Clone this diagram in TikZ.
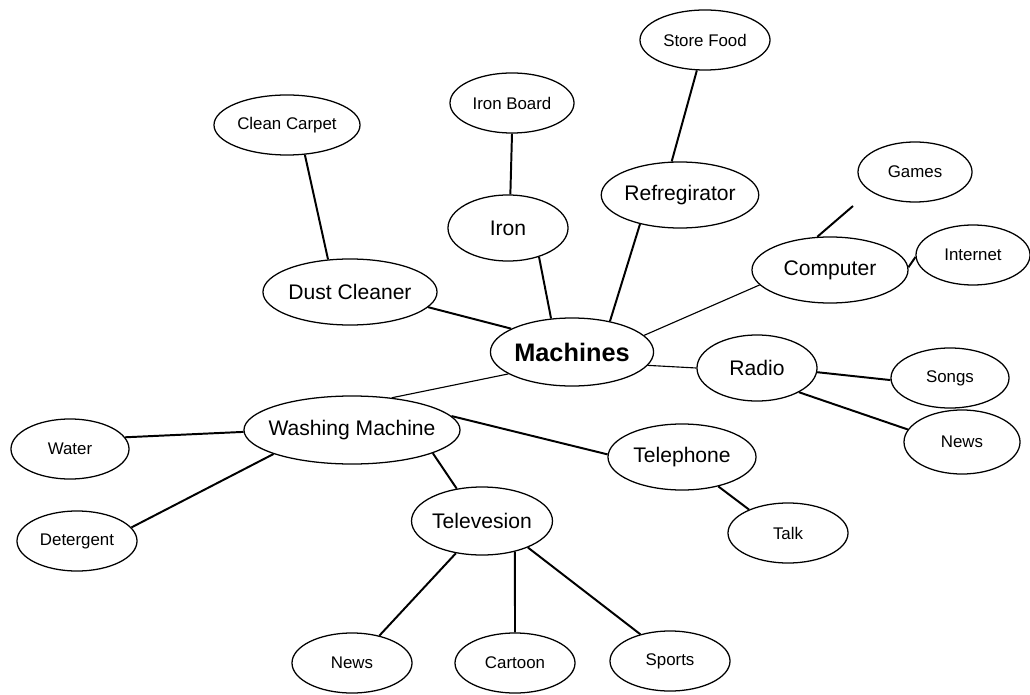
\documentclass[tikz,border=0pt]{standalone}
\usepackage{fontspec}
\setmainfont{Liberation Sans}
\usetikzlibrary{shapes.geometric}

\tikzset{
    bubble/.style={ellipse, draw, line width=0.9pt, inner sep=0pt, minimum height=1.5cm, font=\fontsize{12}{14}\selectfont},
    topic/.style={bubble, minimum height=1.65cm, font=\fontsize{15}{18}\selectfont},
    link/.style={line width=1.4pt},
    thinlink/.style={line width=0.8pt}
}

\begin{document}
\begin{tikzpicture}[x=0.025cm, y=-0.025cm]
    \useasboundingbox (0,0) rectangle (1030,695);

    % Centre
    \node[bubble, minimum width=4cm, minimum height=1.7cm, font=\fontsize{18}{21}\selectfont\bfseries] (mach) at (572,352) {Machines};

    % Upper branches
    \node[topic, minimum width=4.35cm] (dust) at (350,292) {Dust Cleaner};
    \node[bubble, minimum width=3.65cm] (carpet) at (287,125) {Clean Carpet};
    \node[topic, minimum width=3cm] (iron) at (508,228) {Iron};
    \node[bubble, minimum width=3.1cm] (board) at (512,103) {Iron Board};
    \node[topic, minimum width=3.9cm] (fridge) at (680,195) {Refregirator};
    \node[bubble, minimum width=3.25cm] (food) at (705,40) {Store Food};
    \node[topic, minimum width=3.9cm] (comp) at (830,270) {Computer};
    \node[bubble, minimum width=2.85cm] (games) at (915,172) {Games};
    \node[bubble, minimum width=2.85cm] (net) at (973,255) {Internet};
    \coordinate (gamesend) at (853,206);

    % Right branches
    \node[topic, minimum width=3cm] (radio) at (757,368) {Radio};
    \node[bubble, minimum width=2.95cm] (songs) at (950,378) {Songs};
    \node[bubble, minimum width=2.9cm, minimum height=1.6cm] (rnews) at (962,442) {News};
    \node[topic, minimum width=3.7cm] (phone) at (682,457) {Telephone};
    \node[bubble, minimum width=3cm] (talk) at (788,533) {Talk};

    % Lower left branches
    \node[topic, inner xsep=-0.3cm, minimum width=5.4cm, minimum height=1.7cm] (wash) at (352,430) {Washing Machine};
    \node[bubble, minimum width=2.95cm] (water) at (70,449) {Water};
    \node[bubble, minimum width=3cm] (deter) at (77,541) {Detergent};
    \node[topic, minimum width=3.15cm, minimum height=1.7cm] (tv) at (482,521) {Televesion};
    \node[bubble, minimum width=3cm] (tnews) at (352,663) {News};
    \node[bubble, minimum width=3cm] (cartoon) at (515,663) {Cartoon};
    \node[bubble, minimum width=3cm] (sports) at (670,661) {Sports};

    % Connectors
    \draw[link] (dust.349) -- (mach.159);
    \draw[link] (dust.124) -- (carpet.301);
    \draw[link] (iron.317) -- (mach.122);
    \draw[link] (iron.86) -- (board.270);
    \draw[link] (fridge.216) -- (mach.39);
    \draw[link] (fridge.104) -- (food.255);
    \draw[thinlink] (comp.192) -- (mach.13);
    \draw[link] (comp.111) -- (gamesend);
    \draw[link] (comp.2) -- (net.182);
    \draw[thinlink] (mach.-10) -- (radio.180);
    \draw[link] (radio.-4) -- (songs.182);
    \draw[link] (radio.-30) -- (rnews.167);
    \draw[thinlink] (mach.199) -- (wash.39);
    \draw[link] (water.12) -- (wash.181);
    \draw[link] (deter.14) -- (wash.197);
    \draw[link] (wash.8) -- (phone.178);
    \draw[link] (wash.344) -- (tv.128);
    \draw[link] (phone.321) -- (talk.149);
    \draw[link] (tv.231) -- (tnews.45);
    \draw[link] (tv.317) -- (cartoon.90);
    \draw[link] (tv.330) -- (sports.138);
\end{tikzpicture}
\end{document}
